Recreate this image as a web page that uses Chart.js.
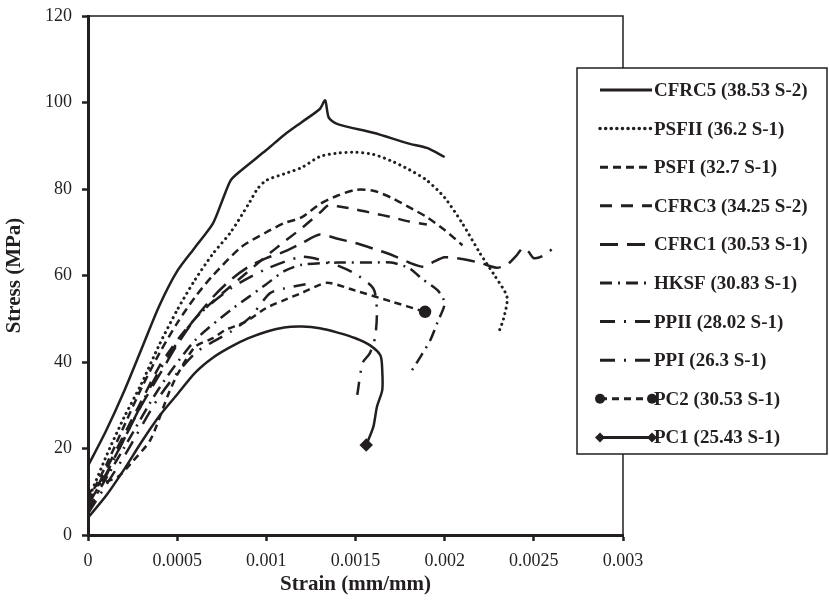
<!DOCTYPE html>
<html>
<head>
<meta charset="utf-8">
<script src="https://cdn.jsdelivr.net/npm/chart.js@4.4.1/dist/chart.umd.min.js"></script>
<style>
  html, body { margin: 0; padding: 0; background: #fff; }
  #wrap { width: 829px; height: 600px; }
</style>
</head>
<body>
<div id="wrap"><canvas id="stress-strain"></canvas></div>
<script>
// strain (mm/mm) and stress (MPa)
var cfrc5Strain = [0, 0.0001, 0.0002, 0.0003, 0.0004, 0.0005, 0.0006, 0.0007, 0.00075, 0.0008, 0.00085, 0.001, 0.0011, 0.0012, 0.0013, 0.00133, 0.00135, 0.0014, 0.0016, 0.0018, 0.0019, 0.002];
var cfrc5Stress = [16, 24, 33, 43, 53, 61, 66.5, 72, 77, 82, 84, 89, 92.5, 95.5, 98.5, 100.5, 96.5, 95, 93, 90.5, 89.5, 87.4];

var psfiiStrain = [0, 0.0001, 0.0002, 0.0003, 0.0004, 0.0005, 0.0006, 0.0007, 0.0008, 0.0009, 0.00095, 0.001, 0.0011, 0.0012, 0.0013, 0.0014, 0.0015, 0.0016, 0.0017, 0.0018, 0.0019, 0.002, 0.0021, 0.0022, 0.00228, 0.00235, 0.00233, 0.0023];
var psfiiStress = [8, 18, 27, 35, 44, 52, 59, 65, 70, 76.5, 80, 82, 83.5, 85, 87.5, 88.3, 88.5, 88, 86.5, 84.5, 82, 78, 72, 65, 60, 55, 50, 46.5];

var psfiStrain = [0, 0.0001, 0.0002, 0.0003, 0.0004, 0.0005, 0.0006, 0.0007, 0.00086, 0.001, 0.0011, 0.0012, 0.0013, 0.0014, 0.0015, 0.0016, 0.0017, 0.0018, 0.0019, 0.002, 0.0021];
var psfiStress = [8, 16, 25, 34, 42, 49, 55, 60, 66.6, 70, 72.1, 73.5, 76.5, 78.5, 79.8, 79.6, 78, 75.8, 73.5, 70.5, 67];

var cfrc3Strain = [0, 0.0001, 0.0002, 0.0003, 0.0004, 0.0005, 0.0006, 0.0007, 0.0008, 0.0009, 0.001, 0.0011, 0.0012, 0.0013, 0.00135, 0.0014, 0.0015, 0.0016, 0.0017, 0.0018, 0.0019];
var cfrc3Stress = [7, 15, 23, 31, 39, 45, 50, 54, 57.5, 61, 64.5, 67.8, 71, 74.5, 76.3, 76, 75.3, 74.4, 73.5, 72.5, 71.8];

var cfrc1Strain = [0, 0.0001, 0.0002, 0.0003, 0.0004, 0.0005, 0.0006, 0.0007, 0.0008, 0.0009, 0.001, 0.0011, 0.0012, 0.0013, 0.0014, 0.0015, 0.0016, 0.0017, 0.0018, 0.00188, 0.00193, 0.002, 0.0021, 0.0022, 0.00229, 0.00235, 0.0024, 0.00244, 0.00247, 0.0025, 0.00255, 0.0026];
var cfrc1Stress = [7, 14, 22, 30, 37, 44, 50, 55, 59, 62, 64, 65.5, 67.5, 69.5, 68.5, 67.5, 66.2, 64.8, 63, 62, 63, 64.2, 63.8, 62.9, 61.8, 62.5, 64.5, 66.4, 65.5, 64, 64.5, 66];

var hksfStrain = [0, 0.0002, 0.0004, 0.0006, 0.0008, 0.0009, 0.001, 0.0011, 0.0012, 0.0014, 0.0016, 0.0017, 0.0018, 0.00188, 0.00196, 0.002, 0.00196, 0.00192, 0.00187, 0.0018];
var hksfStress = [6, 20, 34, 45, 52, 55, 58, 61, 62.5, 63, 63, 63, 61.7, 59, 56.6, 53.6, 49.2, 45.1, 41.6, 37];

var ppiiStrain = [0, 0.0002, 0.0004, 0.0006, 0.0008, 0.001, 0.0012, 0.00136, 0.00149, 0.0016, 0.00162, 0.00161, 0.00158, 0.00154, 0.00151];
var ppiiStress = [5, 22, 38, 50, 57, 61.5, 64.3, 62.9, 60.6, 57, 52, 45.7, 42, 39.8, 32.4];

var ppiStrain = [0, 0.0002, 0.0004, 0.0006, 0.0008, 0.00091, 0.00102, 0.0011, 0.00122];
var ppiStress = [5, 18, 32, 42, 47, 50.4, 55.9, 57, 58];

var pc2Strain = [0, 0.00003, 0.00008, 0.00017, 0.00025, 0.00035, 0.00045, 0.0005, 0.0006, 0.0007, 0.00077, 0.00088, 0.001, 0.0011, 0.0012, 0.00134, 0.0015, 0.0017, 0.00189];
var pc2Stress = [9, 11, 12, 13.5, 17, 22, 32.5, 37, 43.5, 45.5, 47.4, 49.2, 52.5, 54.3, 56, 58.3, 56.5, 54, 51.6];

var pc1Strain = [0, 0.0001, 0.0002, 0.0003, 0.0004, 0.0005, 0.0006, 0.0007, 0.0008, 0.0009, 0.001, 0.0011, 0.0012, 0.0013, 0.0014, 0.0015, 0.00158, 0.00164, 0.00165, 0.00165, 0.00162, 0.0016, 0.00156];
var pc1Stress = [4, 9, 15, 21.5, 27.5, 32.5, 37.5, 41, 43.5, 45.5, 47, 48, 48.2, 47.8, 46.8, 45.5, 43.9, 41.5, 38, 33.5, 29.6, 25, 20.8];

var seriesLabels = ['CFRC5 (38.53 S-2)', 'PSFII (36.2 S-1)', 'PSFI (32.7 S-1)', 'CFRC3 (34.25 S-2)', 'CFRC1 (30.53 S-1)',
    'HKSF (30.83 S-1)', 'PPII (28.02 S-1)', 'PPI (26.3 S-1)', 'PC2 (30.53 S-1)', 'PC1 (25.43 S-1)'];
var xTicks = [0, 0.0005, 0.001, 0.0015, 0.002, 0.0025, 0.003];

var ink = '#231f20';
var serif = '"Liberation Serif", "Times New Roman", serif';

function pairs(xs, ys) {
    return xs.map(function (x, i) { return { x: x, y: ys[i] }; });
}

function endMarker(xs, size) {
    return xs.map(function (x, i) { return i === xs.length - 1 ? size : 0; });
}

function series(label, xs, ys, dash, extra) {
    var ds = {
        label: label,
        data: pairs(xs, ys),
        showLine: true,
        borderColor: ink,
        backgroundColor: ink,
        borderWidth: 2.5,
        borderDash: dash,
        pointRadius: 0,
        tension: 0.25
    };
    return Object.assign(ds, extra || {});
}

var datasets = [
    series(seriesLabels[0], cfrc5Strain, cfrc5Stress, []),
    series(seriesLabels[1], psfiiStrain, psfiiStress, [0.1, 5.5], { borderCapStyle: 'round', borderWidth: 3 }),
    series(seriesLabels[2], psfiStrain, psfiStress, [8, 5]),
    series(seriesLabels[3], cfrc3Strain, cfrc3Stress, [12, 9]),
    series(seriesLabels[4], cfrc1Strain, cfrc1Stress, [18, 9]),
    series(seriesLabels[5], hksfStrain, hksfStress, [12, 6, 2, 6]),
    series(seriesLabels[6], ppiiStrain, ppiiStress, [15, 9, 2, 9]),
    series(seriesLabels[7], ppiStrain, ppiStress, [15, 9, 2, 9]),
    series(seriesLabels[8], pc2Strain, pc2Stress, [7, 5], { pointRadius: endMarker(pc2Strain, 5), pointStyle: 'circle' }),
    series(seriesLabels[9], pc1Strain, pc1Stress, [], { pointRadius: endMarker(pc1Strain, 5), pointStyle: 'rectRot' })
];

// thin frame on top / right plus the boxed legend sitting over the plot edge
var frameLegend = {
    id: 'frameLegend',
    beforeDatasetsDraw: function (chart) {
        var a = chart.chartArea, c = chart.ctx;
        c.save();
        c.strokeStyle = ink;
        c.lineWidth = 1.5;
        c.beginPath();
        c.moveTo(a.left, a.top);
        c.lineTo(a.right, a.top);
        c.lineTo(a.right, a.bottom);
        c.stroke();
        c.restore();
    },
    afterDraw: function (chart) {
        var c = chart.ctx;
        c.save();
        c.fillStyle = '#fff';
        c.fillRect(577, 68, 250, 386);
        c.strokeStyle = ink;
        c.lineWidth = 1.5;
        c.strokeRect(577, 68, 250, 386);
        c.font = 'bold 19px ' + serif;
        c.textBaseline = 'middle';
        chart.data.datasets.forEach(function (ds, i) {
            var y = 90 + i * 38.6;
            c.strokeStyle = ink;
            c.fillStyle = ink;
            c.lineWidth = ds.borderWidth + 0.5;
            c.lineCap = ds.borderCapStyle || 'butt';
            c.setLineDash(ds.borderDash);
            c.beginPath();
            c.moveTo(600, y);
            c.lineTo(652, y);
            c.stroke();
            c.setLineDash([]);
            if (ds.pointStyle === 'circle') {
                [600, 652].forEach(function (x) {
                    c.beginPath(); c.arc(x, y, 5, 0, Math.PI * 2); c.fill();
                });
            } else if (ds.pointStyle === 'rectRot') {
                [600, 652].forEach(function (x) {
                    c.beginPath();
                    c.moveTo(x, y - 5); c.lineTo(x + 5, y); c.lineTo(x, y + 5); c.lineTo(x - 5, y);
                    c.closePath(); c.fill();
                });
            }
            c.fillText(ds.label, 654, y + 1);
        });
        c.restore();
    }
};

var ctx = document.getElementById('stress-strain');

var stressChart = new Chart(ctx, {
    type: 'scatter',
    data: { datasets: datasets },
    plugins: [frameLegend],
    options: {
        responsive: true,
        maintainAspectRatio: false,
        animation: false,
        layout: {
            padding: { top: 16, right: 206, left: 0, bottom: 0 }
        },
        plugins: {
            legend: { display: false },
            tooltip: { enabled: false }
        },
        scales: {
            x: {
                type: 'linear',
                min: 0,
                max: 0.003,
                afterBuildTicks: function (s) {
                    s.ticks = xTicks.map(function (v) { return { value: v }; });
                },
                afterFit: function (s) {
                    s.height = 65;
                    s.paddingLeft = 0;
                    s.paddingRight = 0;
                },
                border: { width: 3, color: ink },
                grid: { drawOnChartArea: false, tickLength: 6, tickWidth: 2.5, color: ink },
                ticks: {
                    color: ink,
                    font: { family: serif, size: 18 },
                    padding: 9,
                    maxRotation: 0,
                    callback: function (v) { return String(+v.toFixed(4)); }
                },
                title: {
                    display: true,
                    text: 'Strain (mm/mm)',
                    color: ink,
                    font: { family: serif, size: 21, weight: 'bold' },
                    padding: { top: 2, bottom: 3 }
                }
            },
            y: {
                min: 0,
                max: 120,
                afterFit: function (s) {
                    s.width = 88;
                    s.paddingTop = 0;
                    s.paddingBottom = 0;
                },
                border: { width: 3, color: ink },
                grid: { drawOnChartArea: false, tickLength: 6, tickWidth: 2.5, color: ink },
                ticks: {
                    stepSize: 20,
                    color: ink,
                    font: { family: serif, size: 18 },
                    padding: 10
                },
                title: {
                    display: true,
                    text: 'Stress (MPa)',
                    color: ink,
                    font: { family: serif, size: 21, weight: 'bold' },
                    padding: { top: 2, bottom: 0 }
                }
            }
        }
    }
});
</script>
</body>
</html>
